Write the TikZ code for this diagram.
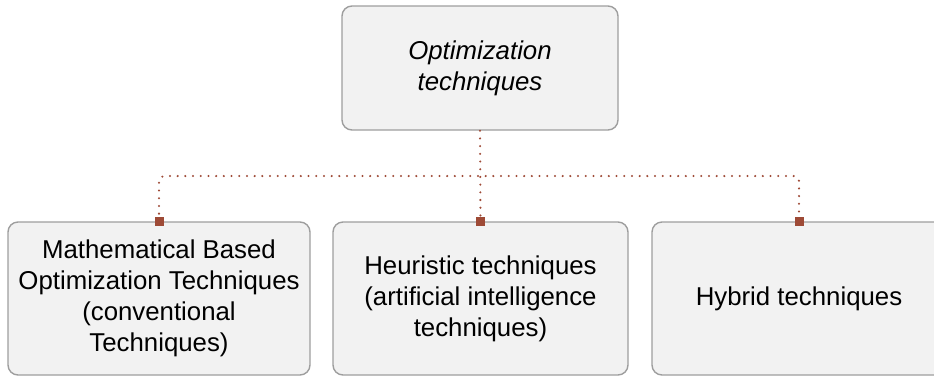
\documentclass[tikz,border=0pt]{standalone}
\usepackage{fontspec}
\setmainfont{Liberation Sans}
\begin{document}
\begin{tikzpicture}[x=1pt,y=-1pt,
  box/.style={draw=black!38, line width=1.4pt, fill=black!5, rounded corners=10pt,
    inner sep=0pt, align=center, font=\fontsize{25.8}{31}\selectfont},
  conn/.style={draw=linkred, line width=2.3pt, line cap=round,
    dash pattern=on 0pt off 7.7pt, rounded corners=5pt},
  tab/.style={fill=linkred, minimum size=9pt, inner sep=0pt}]
\definecolor{linkred}{HTML}{9E4A36}
\useasboundingbox (0,0) rectangle (934,376);

% root and the three families of methods
\node[box, minimum width=276pt, minimum height=124pt] (root) at (480,68)
  {\itshape Optimization\\\itshape techniques};
\node[box, minimum width=302pt, minimum height=153pt] (math) at (159,298.5)
  {Mathematical Based\\Optimization Techniques\\(conventional\\Techniques)};
\node[box, minimum width=295pt, minimum height=153pt] (heur) at (480.5,298.5)
  {Heuristic techniques\\(artificial intelligence\\techniques)};
\node[box, minimum width=294pt, minimum height=153pt] (hyb) at (799,298.5)
  {Hybrid techniques};

% dotted bus linking the root to each family
\coordinate (bus) at (0,176);
\draw[conn] (root.south) -- (heur.north);
\draw[conn] (math.north) -- (math.north |- bus) -- (hyb.north |- bus) -- (hyb.north);

% small square tabs where the links meet the boxes
\node[tab] (tmath) at (math.north) {};
\node[tab] (theur) at (heur.north) {};
\node[tab] (thyb) at (hyb.north) {};
\end{tikzpicture}
\end{document}
